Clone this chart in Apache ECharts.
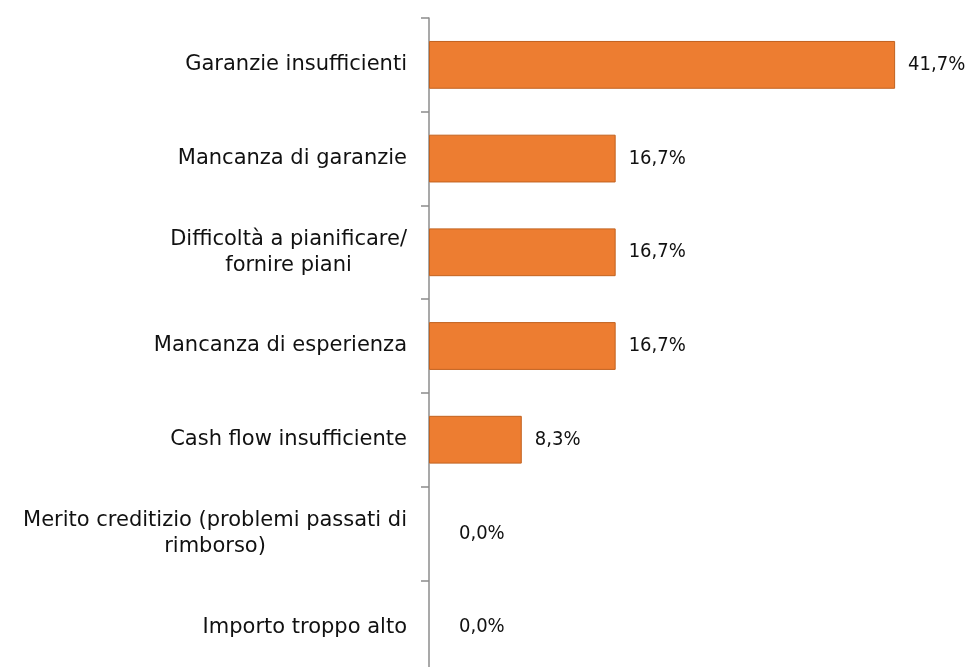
<!DOCTYPE html>
<html>
<head>
<meta charset="utf-8">
<script src="https://cdn.jsdelivr.net/npm/echarts@6/dist/echarts.min.js"></script>
<style>
  html, body { margin: 0; padding: 0; background: #fff; }
  #chart { width: 975px; height: 667px; }
</style>
</head>
<body>
<div id="chart"></div>
<script>
// categories top to bottom, multi-line labels split with \n
const categories = [
  "Garanzie insufficienti",
  "Mancanza di garanzie",
  "Difficoltà a pianificare/\nfornire piani",
  "Mancanza di esperienza",
  "Cash flow insufficiente",
  "Merito creditizio (problemi passati di\nrimborso)",
  "Importo troppo alto"
];
const values = [41.7, 16.7, 16.7, 16.7, 8.3, 0.0, 0.0];

const chart = echarts.init(document.getElementById("chart"));

chart.setOption({
  animation: false,
  grid: {
    left: 429,
    right: 43,
    top: 18,
    height: 656,
    outerBoundsMode: "none"
  },
  xAxis: {
    type: "value",
    min: 0,
    max: 45,
    show: false
  },
  yAxis: {
    type: "category",
    inverse: true,
    data: categories,
    axisLine: {
      lineStyle: { color: "#8c8c8c", width: 1.5 }
    },
    axisTick: {
      show: true,
      length: 8,
      lineStyle: { color: "#8c8c8c", width: 1.5 }
    },
    axisLabel: {
      margin: 22,
      fontFamily: "DejaVu Sans",
      fontSize: 21,
      color: "#111",
      lineHeight: 26,
      formatter: function (v) {
        return v.split("\n").map(function (s) { return "{c|" + s + "}"; }).join("\n");
      },
      rich: {
        c: {
          align: "center",
          fontFamily: "DejaVu Sans",
          fontSize: 21,
          color: "#111",
          lineHeight: 26
        }
      }
    }
  },
  series: [
    {
      type: "bar",
      barWidth: "51%",
      itemStyle: {
        color: "#ED7D31",
        borderColor: "#C2621F",
        borderWidth: 1
      },
      label: {
        show: true,
        position: "right",
        distance: 13,
        fontFamily: "DejaVu Sans Condensed",
        fontSize: 20,
        color: "#111",
        formatter: function (p) {
          return p.value.toFixed(1).replace(".", ",") + "%";
        }
      },
      data: values.map(function (v) {
        return v === 0
          ? { value: v, itemStyle: { borderWidth: 0 }, label: { distance: 30 } }
          : v;
      })
    }
  ]
});
</script>
</body>
</html>
